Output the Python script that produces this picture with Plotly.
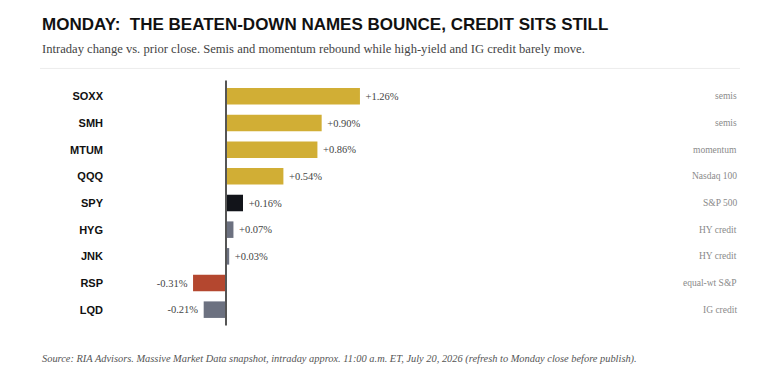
import plotly.graph_objects as go

tickers = ["SOXX", "SMH", "MTUM", "QQQ", "SPY", "HYG", "JNK", "RSP", "LQD"]
changes = [1.26, 0.90, 0.86, 0.54, 0.16, 0.07, 0.03, -0.31, -0.21]
groups = ["semis", "semis", "momentum", "Nasdaq 100", "S&P 500", "HY credit", "HY credit", "equal-wt S&P", "IG credit"]
colors = ["#D1AE35", "#D1AE35", "#D1AE35", "#D1AE35", "#12141A", "#6C7180", "#6C7180", "#B4472F", "#6C7180"]

W, H = 767, 378
fig = go.Figure()
labels = [(" +" if v > 0 else "-") + f"{abs(v):.2f}%" + ("" if v > 0 else " ") for v in changes]
fig.add_trace(go.Bar(
    x=changes, y=tickers, orientation="h",
    marker=dict(color=colors, line=dict(width=0)),
    width=0.62,
    text=labels, textposition="outside", cliponaxis=False,
    textfont=dict(family="Liberation Serif, Georgia, serif", size=10.5, color="#444"),
    hoverinfo="skip",
))

ppu = 106.3
left_px, right_px, zero_px = 112, 739, 226
xr = [-(zero_px - left_px) / ppu, (right_px - zero_px) / ppu]

top, bottom = 82.6, 323.4
fig.update_layout(
    width=W, height=H,
    margin=dict(l=left_px, r=W - right_px, t=top, b=H - bottom),
    paper_bgcolor="white", plot_bgcolor="white",
    showlegend=False,
    xaxis=dict(range=xr, visible=False, showgrid=False, zeroline=False),
    yaxis=dict(autorange="reversed", showgrid=False, zeroline=False, showline=False,
               ticks="", ticklabelstandoff=8,
               tickfont=dict(family="Liberation Sans, Arial, sans-serif", size=11, color="#111", weight="bold")),
    bargap=0.38,
)

# zero line
fig.add_shape(type="line", xref="x", yref="paper", x0=0, x1=0, y0=-0.01, y1=1.01,
              line=dict(color="#555", width=2))

# right-side group labels
for t, g in zip(tickers, groups):
    fig.add_annotation(xref="paper", yref="y", x=1, y=t, text=g, showarrow=False,
                       xanchor="right", font=dict(family="Liberation Serif, Georgia, serif", size=9.5, color="#8a8a8a"))

def px_to_paper_x(px):
    return (px - left_px) / (right_px - left_px)

def px_to_paper_y(py):
    return (bottom - py) / (bottom - top)

fig.add_annotation(xref="paper", yref="paper", x=px_to_paper_x(40), y=px_to_paper_y(24),
                   text="<b>MONDAY:  THE BEATEN-DOWN NAMES BOUNCE, CREDIT SITS STILL</b>",
                   showarrow=False, xanchor="left", yanchor="middle",
                   font=dict(family="Liberation Sans, Arial, sans-serif", size=17, color="#111"))
fig.add_annotation(xref="paper", yref="paper", x=px_to_paper_x(40), y=px_to_paper_y(48),
                   text="Intraday change vs. prior close. Semis and momentum rebound while high-yield and IG credit barely move.",
                   showarrow=False, xanchor="left", yanchor="middle",
                   font=dict(family="Liberation Serif, Georgia, serif", size=12.6, color="#444"))
fig.add_shape(type="line", xref="paper", yref="paper", x0=px_to_paper_x(40), x1=px_to_paper_x(740),
              y0=px_to_paper_y(68), y1=px_to_paper_y(68), line=dict(color="#ececec", width=1))
fig.add_annotation(xref="paper", yref="paper", x=px_to_paper_x(40), y=px_to_paper_y(360),
                   text="<i>Source: RIA Advisors. Massive Market Data snapshot, intraday approx. 11:00 a.m. ET, July 20, 2026 (refresh to Monday close before publish).</i>",
                   showarrow=False, xanchor="left", yanchor="middle",
                   font=dict(family="Liberation Serif, Georgia, serif", size=10.4, color="#555"))

fig.write_html("out.html")
